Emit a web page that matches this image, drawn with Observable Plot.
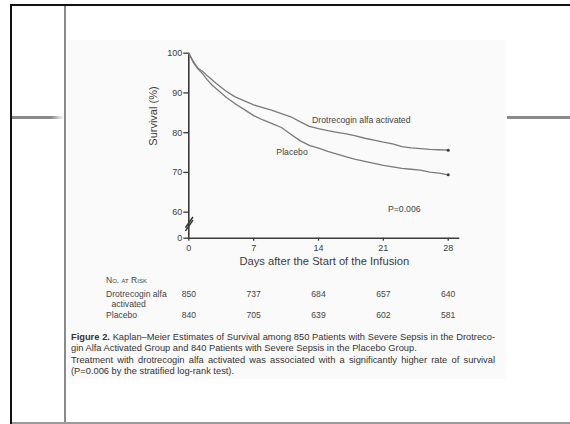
<!DOCTYPE html>
<html><head><meta charset="utf-8">
<script src="https://cdn.jsdelivr.net/npm/d3@7"></script>
<script src="https://cdn.jsdelivr.net/npm/@observablehq/plot@0.6"></script>
<style>
body{margin:0;background:#fff;}
#wrap{position:relative;width:570px;height:424px;overflow:hidden;background:#fff;font-family:"Liberation Sans",Arial,Helvetica,sans-serif;}
.deco{position:absolute;}
#chart{position:absolute;left:0;top:0;}
.cap{position:absolute;left:71px;width:424px;font-size:9.3px;line-height:10px;color:#333;white-space:nowrap;}
.just{text-align:justify;text-align-last:justify;}
</style>
</head><body>
<div id="wrap">
  <div class="deco" style="left:67px;top:40px;width:439px;height:339px;background:#fafafa;"></div>
  <div class="deco" style="left:10px;top:4px;width:560px;height:2px;background:#111;"></div>
  <div class="deco" style="left:10px;top:4px;width:2px;height:420px;background:#111;"></div>
  <div class="deco" style="left:64px;top:6px;width:2px;height:418px;background:#8a8a8a;"></div>
  <div class="deco" style="left:12px;top:116px;width:52px;height:3px;background:linear-gradient(to right,#8a8a8a 0%,#8a8a8a 75%,#fff 100%);"></div>
  <div class="deco" style="left:507px;top:116px;width:63px;height:3px;background:#8a8a8a;"></div>
  <div class="deco" style="left:12px;top:422px;width:558px;height:2px;background:#9a9a9a;"></div>
  <div id="chart"></div>
  <div class="cap just" style="top:332px;"><b>Figure 2.</b> Kaplan–Meier Estimates of Survival among 850 Patients with Severe Sepsis in the Drotreco-</div>
  <div class="cap" style="top:342.5px;">gin Alfa Activated Group and 840 Patients with Severe Sepsis in the Placebo Group.</div>
  <div class="cap just" style="top:355px;">Treatment with drotrecogin alfa activated was associated with a significantly higher rate of survival</div>
  <div class="cap" style="top:366px;">(P=0.006 by the stratified log-rank test).</div>
</div>
<script>
// ---- data ----
const days = [0,0.5,1,1.5,2,2.5,3,4,5,6,7,8,9,10,11,12,13,14,15,16,17,18,19,20,21,22,23,24,25,26,27,28];
const drotrecogin = [100,97.9,96.2,95.4,94.3,93.3,92.3,90.5,89.0,88.0,87.0,86.3,85.6,84.8,84.0,82.8,81.6,81.0,80.5,80.1,79.7,79.2,78.6,78.1,77.6,77.2,76.5,76.2,76.0,75.8,75.7,75.6];
const placebo = [100,97.6,96.0,94.8,93.3,92.0,91.0,89.0,87.3,85.8,84.3,83.2,82.3,81.3,79.6,78.0,76.8,76.1,75.3,74.6,73.9,73.3,72.8,72.3,71.8,71.4,71.0,70.8,70.6,70.1,69.8,69.4];
const seriesNames = ["Drotrecogin alfa activated","Placebo"];
const xTicks = [0,7,14,21,28];
const yTickLabels = [0,60,70,80,90,100];
const atRiskDrotrecogin = [850,737,684,657,640];
const atRiskPlacebo = [840,705,639,602,581];
const pValueLabel = "P=0.006";
const xLabel = "Days after the Start of the Infusion";
const yLabel = "Survival (%)";

// broken y axis: "0" is drawn just below 60, at this position of the scale
const axisFloor = 53.45;
const yPos = v => (v === 0 ? axisFloor : v);
const yTickPositions = yTickLabels.map(yPos);

const rows = [];
days.forEach((d,i)=>{
  rows.push({day:d, value:drotrecogin[i], group:seriesNames[0]});
  rows.push({day:d, value:placebo[i], group:seriesNames[1]});
});
const ends = [
  {day:days[days.length-1], value:drotrecogin[drotrecogin.length-1]},
  {day:days[days.length-1], value:placebo[placebo.length-1]}
];
const breakMarks = [
  {x1:-0.36, y1:55.3, x2:0.45, y2:58.0},
  {x1:-0.36, y1:56.1, x2:0.45, y2:58.8}
];
const seriesLabels = [
  {day:13.3, value:83.1, text:seriesNames[0]},
  {day:9.45, value:75.1, text:seriesNames[1]},
  {day:21.5, value:60.7, text:pValueLabel}
];
const ink = "#3a3a3a";
const font = "Liberation Sans, Arial, Helvetica, sans-serif";

const chart = Plot.plot({
  width:570, height:424,
  marginLeft:188.3, marginRight:110.7, marginTop:52.7, marginBottom:186.3,
  style:{background:"transparent", fontFamily:font, color:ink, fontSize:"9px"},
  x:{domain:[0,29.25]},
  y:{domain:[axisFloor,100]},
  marks:[
    Plot.axisY({ticks:yTickPositions, tickSize:5, tickPadding:1.5, label:null, fontSize:9,
      tickFormat:d=>String(yTickLabels[yTickPositions.indexOf(d)]), strokeWidth:1.3}),
    Plot.axisX({ticks:xTicks, tickSize:3, tickPadding:3, label:null, fontSize:9, strokeWidth:1.3}),
    Plot.ruleX([0], {stroke:ink, strokeWidth:1.6}),
    Plot.ruleY([axisFloor], {stroke:ink, strokeWidth:1.6}),
    Plot.link(breakMarks, {x1:"x1", y1:"y1", x2:"x2", y2:"y2", stroke:ink, strokeWidth:1.6}),
    Plot.line(rows, {x:"day", y:"value", z:"group", stroke:"#7a7a7a", strokeWidth:1.3}),
    Plot.dot(ends, {x:"day", y:"value", r:1.5, fill:ink, stroke:null}),
    Plot.text(seriesLabels, {x:"day", y:"value", text:"text", textAnchor:"start", fontSize:8.7, fill:"#444"}),
    Plot.text([yLabel], {frameAnchor:"left", dx:-35.6, rotate:-90, fontSize:11, fill:ink}),
    Plot.text([xLabel], {frameAnchor:"bottom", dy:26.6, fontSize:11.2, fill:ink}),
    Plot.text(["No. at Risk"], {frameAnchor:"bottom-left", dx:-82.8, dy:45, textAnchor:"start", fontSize:8.5, fontVariant:"small-caps", fill:"#444"}),
    Plot.text(["Drotrecogin alfa"], {frameAnchor:"bottom-left", dx:-82.8, dy:59, textAnchor:"start", fontSize:8.6, fill:"#444"}),
    Plot.text(["activated"], {frameAnchor:"bottom-left", dx:-77.3, dy:68.5, textAnchor:"start", fontSize:8.6, fill:"#444"}),
    Plot.text(["Placebo"], {frameAnchor:"bottom-left", dx:-82.8, dy:80, textAnchor:"start", fontSize:8.6, fill:"#444"}),
    Plot.text(atRiskDrotrecogin, {x:(d,i)=>xTicks[i], frameAnchor:"bottom", dy:59, text:d=>String(d), fontSize:8.6, fill:"#444"}),
    Plot.text(atRiskPlacebo, {x:(d,i)=>xTicks[i], frameAnchor:"bottom", dy:80, text:d=>String(d), fontSize:8.6, fill:"#444"})
  ]
});
document.getElementById("chart").appendChild(chart);
</script>
</body></html>
